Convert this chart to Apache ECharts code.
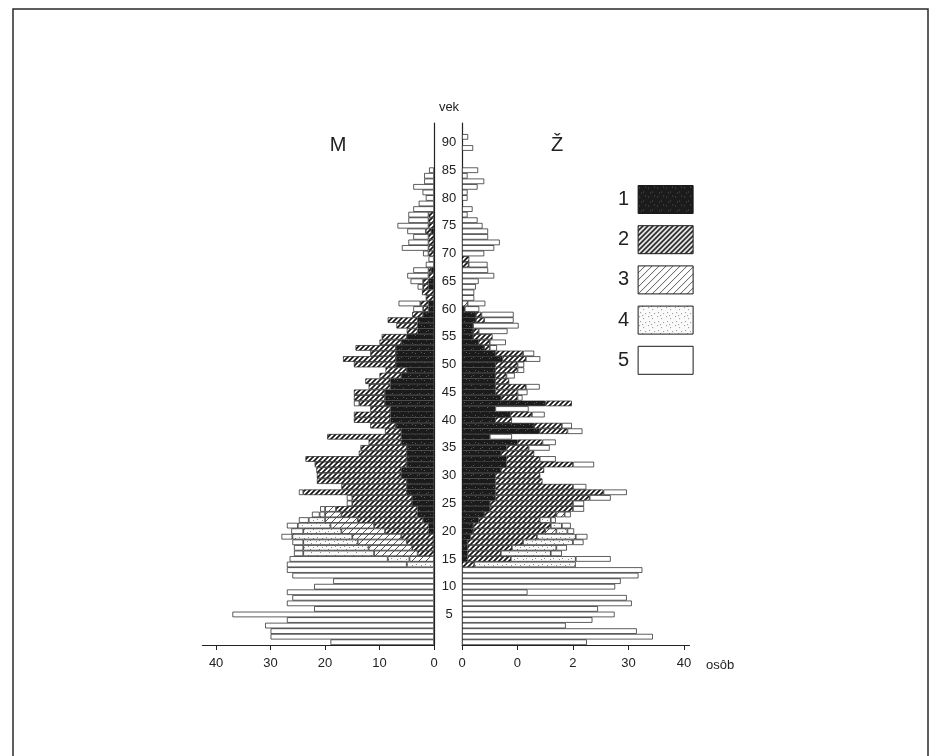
<!DOCTYPE html>
<html>
<head>
<meta charset="utf-8">
<script src="https://cdn.jsdelivr.net/npm/echarts@6/dist/echarts.min.js"></script>
<style>
  html, body { margin: 0; padding: 0; background: #fff; }
  #chart { width: 932px; height: 756px; }
</style>
</head>
<body>
<div id="chart"></div>
<script>
// ---------- DATA (index = age in years, 0..91) ----------
const ages = Array.from({ length: 94 }, (_, i) => String(i)); // age categories (two empty rows on top)
const ageLabelStep = 5;
const categoryNames = ['1', '2', '3', '4', '5'];
const leftTickValues = [0, 10, 20, 30, 40];
const leftTickLabels = ['0', '10', '20', '30', '40'];
const rightTickValues = [0, 10, 20, 30, 40];
const rightTickLabels = ['0', '0', '2', '30', '40'];
const unitLabel = 'osôb';
const ageAxisTitle = 'vek';
const maleTitle = 'M';
const femaleTitle = 'Ž';

// Males (M), persons per age, categories 1..5 stacked from the centre outward
const maleC1 = [0,0,0,0,0,0,0,0,0,0, 0,0,0,0,0,0,0,0,0,0, 1,1,2,3,3,4,4,5,5,5, 6,6,5,5,5,5,6,6,6,7, 8,8,8,9,9,9,8,8,6,5, 7,7,7,7,6,5,3,3,3,2, 1,1,0,0,1,1,0,0.5,0,0, 0,0,0,0,0.5,0,0,0,0,0, 0,0,0,0,0,0,0,0,0,0, 0,0];
const maleC2 = [0,0,0,0,0,0,0,0,0,0, 0,0,0,0,0,0,3,4,5,6, 8,10,12,14,15,11,11,19,12,16.5, 15.5,15.6,16.9,18.6,8.8,8.5,6,13.6,3,4.7, 6.7,6.7,3.7,4.7,5.7,5.7,4,4.6,4,3.9, 7.7,9.7,4.7,7.4,4,4.6,2,3.9,5.5,2, 1,1.5,1.5,2.2,1,1,1,0.5,0,0, 1,1,1,1,1,1,1,1,0,0, 0,0,0,0,0,0,0,0,0,0, 0,0];
const maleC3 = [0,0,0,0,0,0,0,0,0,0, 0,0,0,0,0,4.5,8,8,9,9, 8,8,6,3,2,0,0,0,0,0, 0,0,0,0,0,0,0,0,0,0, 0,0,0,0,0,0,0,0,0,0, 0,0,0,0,0,0,0,0,0,0, 0,0,0,0,0,0,0,0,0,0, 0,0,0,0,0,0,0,0,0,0, 0,0,0,0,0,0,0,0,0,0, 0,0];
const maleC4 = [0,0,0,0,0,0,0,0,0,0, 0,0,0,0,5,4,13,12,10,11, 7,6,3,1,0,0,0,0,0,0, 0,0,0,0,0,0,0,0,0,0, 0,0,0,0,0,0,0,0,0,0, 0,0,0,0,0,0,0,0,0,0, 0,0,0,0,0,0,0,0,0,0, 0,0,0,0,0,0,0,0,0,0, 0,0,0,0,0,0,0,0,0,0, 0,0];
const maleC5 = [19,30,30,31,27,37,22,27,26,27, 22,18.5,26,27,22,18,1.7,1.7,2,2, 2.2,2,1.8,1.4,0.9,1,1,0.8,0,0, 0,0,0,0,0,0,0,0,0,0, 0,0,0,1,0,0,0,0,0,0, 0,0,0,0,0,0,0,0,0,0, 1.8,4,0,0,1,2.3,3.9,2.8,1.5,1, 1,4.9,3.7,2.8,3.4,5.7,3.7,3.7,3.8,2.8, 1.5,2.1,3.8,1.8,1.8,0.9,0,0,0,0, 0,0];

// Females (Ž)
const femaleC1 = [0,0,0,0,0,0,0,0,0,0, 0,0,0,0,0,1,1,1,1,1.5, 2,2,3,4,5,5,6,6,6,6, 6,7,8,8,7,8,10,5,14,13, 6,8.7,6,15,7,6,6,6,6,6, 6,7.3,6,4,3,2,2,2,2.5,2.5, 0.5,0,0,0,0,0,0,0,0,0, 0,0,0,0,0,0,0,0,0,0, 0,0,0,0,0,0,0,0,0,0, 0,0];
const femaleC2 = [0,0,0,0,0,0,0,0,0,0, 0,0,0,0,2.2,7.8,6,8,10,12, 13,14,11,13,15,15,17,19.5,14,8.5, 8.1,7.8,12,6,6,4,4.5,0,5,5, 3,3.9,0,4.8,3,4,5.5,2.5,2,4, 4,4.2,5,1,2,3.5,1,0,1.5,1, 0,0,0,0,0,0,0,0,1.2,1.3, 0,0,0,0,0,0,0,0,0,0, 0,0,0,0,0,0,0,0,0,0, 0,0];
const femaleC3 = [0,0,0,0,0,0,0,0,0,0, 0,0,0,0,0,0,0,0,0,0, 2,0,0,1.5,0,0,0,0,0,0, 0,0,0,0,0,0,0,0,0,0, 0,0,0,0,0,0,0,0,0,0, 0,0,0,0,0,0,0,0,0,0, 0,1,0,0,0,0,0,0,0,0, 0,0,0,0,0,0,0,0,0,0, 0,0,0,0,0,0,0,0,0,0, 0,0];
const femaleC4 = [0,0,0,0,0,0,0,0,0,0, 0,0,0,0,18.3,11.7,9,8,9,7, 2,2,2,0,0,0,0,0,0,0, 0,0,0,0,0,0,0,0,0,0, 0,0,0,0,0,0,0,0,0,0, 0,0,0,0,0,0,0,0,0,0, 0,0,0,0,0,0,0,0,0,0, 0,0,0,0,0,0,0,0,0,0, 0,0,0,0,0,0,0,0,0,0, 0,0];
const femaleC5 = [22.5,34.4,31.5,18.7,23.5,27.5,24.5,30.6,29.7,11.8, 27.6,28.6,31.8,32.5,0,6.3,2,1.9,1.9,2.1, 1.2,1.6,0.9,1.1,2,2,3.8,4.2,2.4,0, 0,0,3.8,2.9,0,3.8,2.4,4,2.7,1.8, 0,2.3,6,0,0.9,1.8,2.5,0,1.5,1.2, 1.2,2.6,2,1.3,2.9,0,5.2,8.2,5.3,5.8, 2.6,3.2,2.2,2.2,2.5,3,5.8,4.7,3.4,0, 4,5.8,6.8,4.7,4.7,3.7,2.8,1,1.9,0, 1,1,2.8,4,1,2.9,0,0,0,2, 0,1.1];

// ---------- PATTERNS ----------
function hatch(size, width, color) {
  const c = document.createElement('canvas');
  c.width = c.height = size;
  const g = c.getContext('2d');
  g.fillStyle = '#fff'; g.fillRect(0, 0, size, size);
  g.strokeStyle = color; g.lineWidth = width; g.beginPath();
  for (let k = -1; k <= 1; k++) {
    const o = k * size;
    g.moveTo(o - 1, size + 1); g.lineTo(o + size + 1, -1);
  }
  g.stroke();
  return c;
}
function blackTex() {
  const c = document.createElement('canvas');
  c.width = c.height = 9;
  const g = c.getContext('2d');
  g.fillStyle = '#1b1b1b'; g.fillRect(0, 0, 9, 9);
  g.fillStyle = '#5a5a5a';
  [[1,2],[5,6],[7,1],[3,7]].forEach(p => g.fillRect(p[0], p[1], 1, 1));
  return c;
}
function dotTex() {
  const c = document.createElement('canvas');
  c.width = c.height = 9;
  const g = c.getContext('2d');
  g.fillStyle = '#fbfbfb'; g.fillRect(0, 0, 9, 9);
  g.fillStyle = '#8a8a8a';
  [[1,1],[5,3],[2,6],[7,7],[4,0]].forEach(p => g.fillRect(p[0], p[1], 1, 1));
  return c;
}
const fills = [
  { image: blackTex(), repeat: 'repeat' },
  { image: hatch(5, 1.7, '#161616'), repeat: 'repeat' },
  { image: hatch(7, 0.8, '#2a2a2a'), repeat: 'repeat' },
  { image: dotTex(), repeat: 'repeat' },
  '#ffffff'
];

const maleSets = [maleC1, maleC2, maleC3, maleC4, maleC5];
const femaleSets = [femaleC1, femaleC2, femaleC3, femaleC4, femaleC5];

function mkSeries(sets, side) {
  return sets.map((arr, k) => ({
    type: 'bar',
    name: categoryNames[k],
    stack: side === 0 ? 'M' : 'F',
    xAxisIndex: side, yAxisIndex: side,
    barWidth: '100%',
    silent: true,
    data: arr.map(v => (v > 0 ? v : '-')),
    itemStyle: { color: fills[k], borderColor: '#1a1a1a', borderWidth: 0.7 }
  }));
}

const font = 'Liberation Sans, Arial, sans-serif';
const ink = '#222222';

const chart = echarts.init(document.getElementById('chart'), null, { renderer: 'canvas' });
chart.setOption({
  animation: false,
  backgroundColor: '#ffffff',
  grid: [
    { left: 202.5, right: 498, top: 123, bottom: 111 },
    { left: 462, right: 242.5, top: 123, bottom: 111 }
  ],
  xAxis: [
    {
      gridIndex: 0, type: 'value', inverse: true, min: 0, max: 42.5,
      splitLine: { show: false },
      axisLine: { show: true, lineStyle: { color: ink, width: 1.2 } },
      axisTick: { show: true, customValues: leftTickValues, length: 5, lineStyle: { color: ink } },
      axisLabel: { customValues: leftTickValues, margin: 12, fontSize: 13, fontFamily: font, color: ink,
        formatter: v => leftTickLabels[leftTickValues.indexOf(v)] }
    },
    {
      gridIndex: 1, type: 'value', min: 0, max: 41,
      splitLine: { show: false },
      axisLine: { show: true, lineStyle: { color: ink, width: 1.2 } },
      axisTick: { show: true, customValues: rightTickValues, length: 5, lineStyle: { color: ink } },
      axisLabel: { customValues: rightTickValues, margin: 12, fontSize: 13, fontFamily: font, color: ink,
        formatter: v => rightTickLabels[rightTickValues.indexOf(v)] }
    }
  ],
  yAxis: [
    {
      gridIndex: 0, type: 'category', data: ages, position: 'right',
      axisLine: { show: true, lineStyle: { color: ink, width: 1.2 } },
      axisTick: { show: false }, axisLabel: { show: false }, splitLine: { show: false }
    },
    {
      gridIndex: 1, type: 'category', data: ages, position: 'left',
      axisLine: { show: true, lineStyle: { color: ink, width: 1.2 } },
      axisTick: { show: false }, splitLine: { show: false },
      axisLabel: {
        show: true, margin: 13, align: 'center', fontSize: 13, fontFamily: font, color: ink,
        interval: (i, v) => { const a = Number(v); return a > 0 && a <= 90 && a % ageLabelStep === 0; }
      }
    }
  ],
  legend: {
    data: categoryNames,
    orient: 'vertical', align: 'right',
    left: 613, top: 180,
    itemWidth: 55, itemHeight: 28, itemGap: 11.2,
    icon: 'rect', selectedMode: false,
    itemStyle: { borderColor: '#1a1a1a', borderWidth: 1 },
    textStyle: { fontSize: 20, fontFamily: font, color: ink, padding: [0, 4, 0, 0] }
  },
  series: [...mkSeries(maleSets, 0), ...mkSeries(femaleSets, 1)],
  graphic: [
    { type: 'polyline', silent: true, shape: { points: [[13, 760], [13, 9], [928, 9], [928, 760]] },
      style: { stroke: '#2a2a2a', lineWidth: 1.5, fill: null } },
    { type: 'text', silent: true, x: 449, y: 107,
      style: { text: ageAxisTitle, fontSize: 13, fontFamily: font, fill: ink, align: 'center', verticalAlign: 'middle' } },
    { type: 'text', silent: true, x: 338, y: 145,
      style: { text: maleTitle, fontSize: 20, fontFamily: font, fill: ink, align: 'center', verticalAlign: 'middle' } },
    { type: 'text', silent: true, x: 557, y: 145,
      style: { text: femaleTitle, fontSize: 20, fontFamily: font, fill: ink, align: 'center', verticalAlign: 'middle' } },
    { type: 'text', silent: true, x: 706, y: 665,
      style: { text: unitLabel, fontSize: 13, fontFamily: font, fill: ink, align: 'left', verticalAlign: 'middle' } }
  ]
});
</script>
</body>
</html>
